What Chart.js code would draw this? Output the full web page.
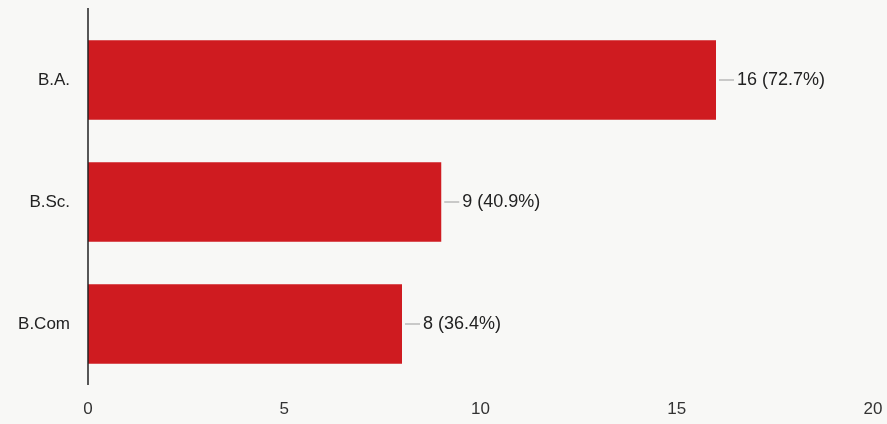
<!DOCTYPE html>
<html>
<head>
<meta charset="utf-8">
<script src="https://cdn.jsdelivr.net/npm/chart.js@4.4.1/dist/chart.umd.min.js"></script>
<style>
  html, body { margin: 0; padding: 0; background: #f8f8f6; }
  #wrap { width: 887px; height: 424px; }
</style>
</head>
<body>
<div id="wrap"><canvas id="courseChart"></canvas></div>
<script>
const categories = ['B.A.', 'B.Sc.', 'B.Com'];
const counts = [16, 9, 8];
const percents = ['72.7%', '40.9%', '36.4%'];
const xTicks = [0, 5, 10, 15, 20];

// value labels with a short grey leader, Google Forms style
const valueLabels = {
    id: 'valueLabels',
    afterDatasetsDraw(chart) {
        const ctx = chart.ctx;
        const meta = chart.getDatasetMeta(0);
        ctx.save();
        ctx.font = '18px "Liberation Sans", Arial, sans-serif';
        ctx.textBaseline = 'middle';
        meta.data.forEach((bar, i) => {
            ctx.strokeStyle = '#9a9a9a';
            ctx.lineWidth = 1;
            ctx.beginPath();
            ctx.moveTo(bar.x + 3, bar.y);
            ctx.lineTo(bar.x + 18, bar.y);
            ctx.stroke();
            ctx.fillStyle = '#222';
            ctx.fillText(counts[i] + ' (' + percents[i] + ')', bar.x + 21, bar.y);
        });
        ctx.restore();
    }
};

// vertical baseline at zero, runs above the first bar
const baseline = {
    id: 'baseline',
    afterDatasetsDraw(chart) {
        const ctx = chart.ctx;
        const x = chart.scales.x.getPixelForValue(0);
        ctx.save();
        ctx.strokeStyle = '#222';
        ctx.lineWidth = 1.5;
        ctx.beginPath();
        ctx.moveTo(x, 8);
        ctx.lineTo(x, chart.chartArea.bottom);
        ctx.stroke();
        ctx.restore();
    }
};

new Chart(document.getElementById('courseChart'), {
    type: 'bar',
    data: {
        labels: categories,
        datasets: [{
            data: counts,
            backgroundColor: '#cf1b20',
            borderWidth: 0,
            categoryPercentage: 1,
            barPercentage: 0.65
        }]
    },
    options: {
        indexAxis: 'y',
        responsive: true,
        maintainAspectRatio: false,
        animation: false,
        layout: { padding: { top: 19, right: 14, left: 0, bottom: 0 } },
        plugins: { legend: { display: false }, tooltip: { enabled: false } },
        scales: {
            x: {
                min: 0,
                max: 20,
                afterBuildTicks: axis => { axis.ticks = xTicks.map(v => ({ value: v })); },
                afterFit: axis => {
                    axis.height = 39;
                    axis.paddingLeft = 0;
                    axis.paddingRight = 0;
                },
                grid: { display: false, drawTicks: false },
                border: { display: false },
                ticks: {
                    color: '#333',
                    padding: 14,
                    font: { family: '"Liberation Sans", Arial, sans-serif', size: 17 }
                }
            },
            y: {
                afterFit: axis => {
                    axis.width = 88;
                    axis.paddingTop = 0;
                    axis.paddingBottom = 0;
                },
                grid: { display: false, drawTicks: false },
                border: { display: false },
                ticks: {
                    color: '#222',
                    padding: 18,
                    font: { family: '"Liberation Sans", Arial, sans-serif', size: 17 }
                }
            }
        }
    },
    plugins: [valueLabels, baseline]
});
</script>
</body>
</html>
